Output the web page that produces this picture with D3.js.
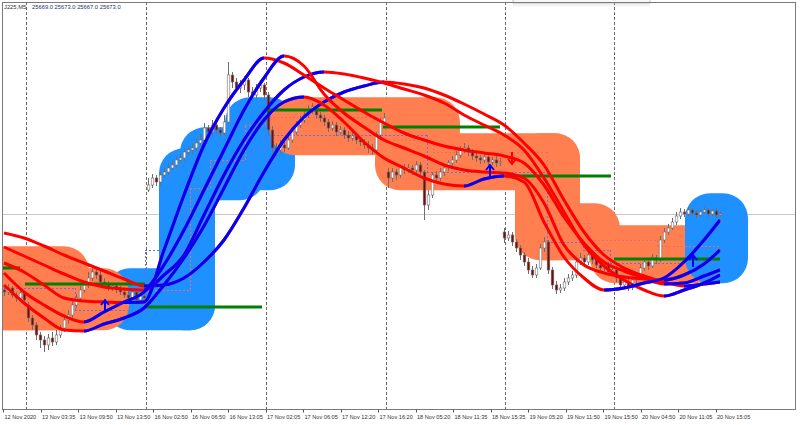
<!DOCTYPE html>
<html><head><meta charset="utf-8">
<script src="https://cdnjs.cloudflare.com/ajax/libs/d3/7.8.5/d3.min.js"></script>
<style>html,body{margin:0;padding:0;background:#fff;}svg{display:block;}</style>
</head><body>
<svg id="chart" width="800" height="425"></svg>
<script>
const symbolName = "J225,M5";
const ohlcText = "25669.0 25673.0 25667.0 25673.0";
const timeLabels = ["12 Nov 2020","13 Nov 03:35","13 Nov 09:50","13 Nov 13:50","16 Nov 02:50","16 Nov 06:50","16 Nov 13:05","17 Nov 02:05","17 Nov 06:05","17 Nov 12:20","17 Nov 16:20","18 Nov 05:20","18 Nov 11:35","18 Nov 15:35","19 Nov 05:20","19 Nov 11:50","19 Nov 15:50","20 Nov 04:50","20 Nov 11:05","20 Nov 15:05"];
const bidPrice = 25673;
const daySeparators = [5.5, 35.5, 65.5, 95.5, 125.25, 152.5];
// candles: [open, high, low, close]
const candles = [
[25370,25386,25346,25362],[25362,25394,25350,25378],[25378,25386,25338,25350],[25350,25362,25322,25338],[25338,25370,25330,25358],[25358,25366,25314,25330],
[25310,25322,25242,25258],[25258,25270,25210,25230],[25230,25242,25170,25190],[25190,25202,25138,25170],[25170,25186,25122,25150],[25150,25194,25130,25178],[25178,25202,25146,25162],
[25162,25210,25150,25190],[25190,25230,25178,25218],[25218,25266,25202,25250],[25250,25290,25234,25270],[25270,25330,25258,25310],
[25310,25354,25298,25338],[25338,25386,25326,25370],[25370,25406,25358,25390],[25390,25442,25378,25418],[25418,25462,25406,25442],[25442,25458,25414,25430],
[25430,25446,25390,25402],[25402,25418,25378,25390],[25390,25406,25366,25378],[25378,25398,25366,25386],[25386,25398,25358,25370],[25370,25386,25350,25362],
[25362,25378,25338,25350],[25350,25366,25322,25338],[25338,25374,25330,25362],[25362,25378,25318,25330],[25330,25358,25322,25346],[25346,25370,25318,25338],
[25770,25818,25762,25790],[25790,25834,25778,25818],[25818,25830,25786,25802],[25802,25842,25790,25830],[25830,25858,25818,25842],
[25842,25878,25830,25858],[25858,25890,25850,25870],[25870,25906,25858,25890],[25890,25918,25878,25898],[25898,25938,25886,25922],[25922,25946,25906,25930],[25930,25958,25914,25938],[25938,25978,25926,25958],[25958,25994,25946,25970],
[25970,26038,25962,26018],[26018,26030,25986,26002],[26002,26050,25990,26030],[26030,26042,25994,26010],[26010,26022,25982,25998],[25998,26070,25986,26042],
[26042,26282,26034,26230],
[26230,26242,26178,26202],[26202,26218,26162,26178],[26178,26210,26158,26190],[26190,26226,26170,26210],[26210,26218,26142,26162],[26162,26182,26130,26150],[26150,26194,26138,26178],[26178,26210,26162,26190],
[26190,26198,26130,26150],[26150,26162,25990,26010],[26010,26026,25918,25938],[25938,25958,25902,25930],[25930,25970,25914,25950],[25950,25966,25922,25938],
[25938,25986,25930,25970],[25970,26018,25958,26002],[26002,26046,25990,26030],[26030,26066,26018,26050],[26050,26086,26038,26070],[26070,26110,26058,26090],[26090,26118,26074,26102],
[26102,26110,26054,26070],[26070,26082,26042,26058],[26058,26070,26026,26042],[26042,26054,26002,26018],[26018,26046,26006,26030],[26030,26042,25986,26002],[26002,26026,25990,26010],[26010,26022,25974,25990],[25990,26006,25962,25978],[25978,26002,25966,25986],[25986,25998,25954,25970],[25970,25982,25946,25962],[25962,25974,25934,25950],[25950,25966,25918,25938],[25938,25954,25910,25930],
[25930,26002,25918,25990],[25990,26058,25978,26042],[26042,26078,26030,26058],
[25842,25858,25778,25818],[25818,25858,25802,25842],[25842,25854,25810,25830],[25830,25870,25818,25858],[25858,25874,25834,25850],
[25850,25874,25838,25858],[25858,25870,25830,25850],[25850,25886,25838,25870],[25870,25882,25826,25842],[25842,25850,25650,25710],[25710,25770,25690,25750],[25750,25842,25738,25830],
[25830,25846,25802,25818],[25818,25858,25806,25842],[25842,25870,25826,25858],[25858,25890,25846,25878],[25878,25906,25866,25890],[25890,25926,25878,25910],[25910,25946,25898,25930],
[25930,25958,25918,25938],[25938,25950,25906,25922],[25922,25934,25890,25906],[25906,25918,25882,25898],
[25898,25910,25874,25890],[25890,25918,25878,25902],[25902,25914,25866,25882],[25882,25902,25870,25890],[25890,25906,25862,25878],[25878,25898,25866,25882],
[25602,25618,25558,25578],[25578,25606,25566,25590],[25590,25602,25546,25562],[25562,25574,25522,25538],
[25538,25550,25490,25510],[25510,25522,25466,25482],[25482,25498,25434,25450],[25450,25466,25418,25430],[25430,25474,25418,25458],
[25458,25554,25450,25538],[25538,25582,25522,25562],
[25562,25570,25434,25450],[25450,25462,25374,25390],[25390,25406,25354,25370],[25370,25394,25358,25378],
[25378,25418,25366,25402],[25402,25434,25390,25418],[25418,25446,25406,25430],[25430,25498,25418,25482],
[25482,25518,25470,25498],[25498,25510,25466,25482],[25482,25526,25470,25510],[25510,25522,25474,25490],[25490,25502,25458,25470],
[25470,25486,25442,25458],[25458,25482,25446,25470],[25470,25482,25430,25442],[25442,25466,25430,25450],
[25450,25466,25402,25418],[25418,25430,25370,25390],[25390,25414,25374,25402],[25402,25418,25366,25382],[25382,25426,25370,25410],[25410,25442,25394,25430],
[25430,25474,25418,25458],[25458,25498,25446,25482],[25482,25494,25450,25466],[25466,25514,25458,25498],[25498,25510,25474,25490],
[25490,25586,25482,25570],[25570,25618,25558,25602],[25602,25634,25590,25618],[25618,25658,25610,25642],
[25642,25682,25630,25666],[25666,25698,25654,25682],[25682,25694,25662,25674],[25674,25702,25666,25690],
[25690,25698,25666,25678],[25678,25690,25658,25670],[25670,25694,25662,25682],[25682,25702,25674,25690],[25690,25698,25662,25674],[25674,25694,25666,25686],[25686,25698,25658,25670],[25670,25686,25662,25674]
];
// moving-average style lines, sampled at these bar indices
const maBars = [0,5,10,15,20,25,30,35,40,45,50,55,60,65,70,75,80,85,90,95,100,105,110,115,120,125,130,135,140,145,150,155,160,165,170,175,179];
const maFast = [25390,25318,25258,25210,25206,25234,25258,25298,25390,25498,25626,25778,25930,26050,26122,26142,26110,26042,25962,25898,25858,25818,25794,25786,25814,25826,25802,25642,25502,25418,25370,25378,25398,25418,25482,25570,25650];
const maSteep = [25438,25362,25310,25266,25242,25282,25322,25362,25470,25610,25770,25930,26090,26218,26306,26266,26154,26078,26022,25970,25938,25906,25870,25850,25842,25838,25818,25718,25550,25470,25438,25422,25414,25410,25430,25474,25530];
const maGentle = [25478,25442,25390,25338,25326,25322,25320,25322,25530,25750,25950,26098,26210,26298,26278,26230,26178,26130,26082,26038,25998,25970,25946,25930,25918,25906,25878,25790,25662,25558,25482,25446,25418,25394,25398,25426,25450];
const maMid = [25542,25506,25470,25434,25402,25382,25374,25370,25430,25510,25670,25830,25970,26082,26170,26222,26242,26234,26218,26198,26174,26150,26118,26070,26030,25990,25930,25818,25682,25550,25466,25410,25370,25346,25370,25398,25430];
const maSlow = [25598,25578,25546,25510,25478,25446,25414,25386,25390,25418,25482,25570,25698,25842,25970,26062,26122,26162,26186,26202,26194,26178,26150,26114,26074,26030,25958,25870,25730,25602,25510,25458,25426,25402,25386,25394,25402];
// trend bands: [fromBar, toBar, upperPrice, lowerPrice, trend]
const bands = [
[31.5,46.5,25357,25309,"up"],[45,46.5,25837,25309,"up"],[50.25,59,25921,25829,"up"],[61.5,66.5,26041,25869,"up"],
[-2,15,25445,25309,"down"],[-2,25,25357,25309,"down"],[72.75,107.75,26041,26009,"down"],[99,137.75,25897,25869,"down"],
[134,137.75,25897,25589,"down"],[135.25,147.75,25617,25589,"down"],[152.75,172.75,25529,25497,"down"],
[176.5,179.75,25657,25497,"up"]
];
// daily levels: [fromBar, toBar, price]
const greenLevels = [[-1,4,25458],[5.25,35.25,25394],[35.5,64.5,25302],[65.25,94.5,26090],[94.75,124,26022],[125.5,151.75,25826],[152.5,179,25494]];
const upperSteps = [[-1,21.5,25466],[34.75,46.5,25370],[46.5,51.5,25778],[51.5,60.25,25890],[60.25,65.25,26030],[65.25,95.25,26062],[95.25,107.25,25970],[107.25,135.75,25922],[135.75,146.5,25638],[146.5,163.25,25570],[163.25,179,25546]];
const lowerSteps = [[-1,17.75,25378],[17.75,35.25,25290],[35.25,45.25,25530],[45.25,52.75,25710],[52.75,61.5,25830],[61.5,65.25,25930],[65.25,105.75,25990],[105.75,135.75,25842],[135.75,144.75,25562],[144.75,151.5,25530],[151.5,179,25478]];
const arrowsUp = [[25.25,25306],[121.5,25846],[172.25,25486]];
const arrowsDown = [[127,25898]];

const svg = d3.select("#chart");
const P = {l:2, t:2, r:796, b:409.5};
const x = d3.scaleLinear().domain([0,179]).range([4,720]);
const y = d3.scaleLinear().domain([24902,26522]).range([407,2]);
const COL = {up:"#1e90ff", down:"#ff7f50"};

svg.append("rect").attr("width",800).attr("height",425).attr("fill","#fff");
const defs = svg.append("defs");
defs.append("clipPath").attr("id","plotClip").append("rect")
  .attr("x",P.l).attr("y",P.t).attr("width",P.r-P.l).attr("height",P.b-P.t);
const g = svg.append("g").attr("clip-path","url(#plotClip)");

// day separators
g.selectAll("line.sep").data(daySeparators).join("line")
  .attr("x1",d=>Math.round(x(d))+0.5).attr("x2",d=>Math.round(x(d))+0.5)
  .attr("y1",P.t).attr("y2",P.b).attr("stroke","#6a6a6a").attr("stroke-width",1).attr("stroke-dasharray","3,2");
// bid line
g.append("line").attr("x1",P.l).attr("x2",P.r).attr("y1",Math.round(y(bidPrice))+0.5).attr("y2",Math.round(y(bidPrice))+0.5)
  .attr("stroke","#c8c8c8").attr("stroke-width",1);

// bands
g.append("g").selectAll("path").data(bands).join("path")
  .attr("d",d=>{const x0=x(d[0]),x1=x(d[1]),y0=y(d[2]),y1=y(d[3]);return `M${x0},${y0}H${x1}V${y1}H${x0}Z`;})
  .attr("fill",d=>COL[d[4]]).attr("stroke",d=>COL[d[4]]).attr("stroke-width",50).attr("stroke-linejoin","round");

// dotted step levels
function steps(data,color){
  const gg = g.append("g").attr("fill","none").attr("stroke",color).attr("stroke-width",1).attr("stroke-dasharray","2,2");
  data.forEach((d,i)=>{
    gg.append("line").attr("x1",x(d[0])).attr("x2",x(d[1])).attr("y1",Math.round(y(d[2]))+0.5).attr("y2",Math.round(y(d[2]))+0.5);
    const n = data[i+1];
    if(n && Math.abs(n[0]-d[1])<0.01){
      gg.append("line").attr("x1",Math.round(x(d[1]))+0.5).attr("x2",Math.round(x(d[1]))+0.5).attr("y1",y(d[2])).attr("y2",y(n[2]));
    }
  });
}
steps(upperSteps,"#f06a6a");
steps(lowerSteps,"#6a6af0");

// candles
const cg = g.append("g");
candles.forEach((c,i)=>{
  const cx = Math.round(x(i))+0.5;
  const [o,h,l,cl] = c;
  cg.append("line").attr("x1",cx).attr("x2",cx).attr("y1",y(h)).attr("y2",y(l)).attr("stroke","#6e6e6e").attr("stroke-width",1);
  const top = y(Math.max(o,cl)), bot = y(Math.min(o,cl));
  cg.append("rect").attr("x",cx-1.3).attr("y",top).attr("width",2.6).attr("height",Math.max(1,bot-top))
    .attr("fill", cl>=o ? "#ffffff" : "#7a0a0a").attr("stroke","#6e6e6e").attr("stroke-width",0.6);
});

// green levels
g.append("g").selectAll("line").data(greenLevels).join("line")
  .attr("x1",d=>x(d[0])).attr("x2",d=>x(d[1])).attr("y1",d=>y(d[2])).attr("y2",d=>y(d[2]))
  .attr("stroke","#008000").attr("stroke-width",3);

// MA lines coloured by direction
const line = d3.line().x(d=>x(d[0])).y(d=>y(d[1])).curve(d3.curveMonotoneX);
[maSlow,maMid,maGentle,maSteep,maFast].forEach((vals,k)=>{
  const pts = maBars.map((b,i)=>[b,vals[i]]);
  const dStr = line(pts);
  g.append("path").attr("d",dStr).attr("fill","none").attr("stroke","#ff0000").attr("stroke-width",3);
  const runs=[]; let cur=null;
  for(let i=1;i<vals.length;i++){
    if(vals[i]>vals[i-1]){ if(cur && cur[1]===maBars[i-1]) cur[1]=maBars[i]; else {cur=[maBars[i-1],maBars[i]]; runs.push(cur);} }
  }
  const cp = defs.append("clipPath").attr("id","rise"+k);
  runs.forEach(r=>cp.append("rect").attr("x",x(r[0])).attr("y",0).attr("width",x(r[1])-x(r[0])).attr("height",425));
  g.append("path").attr("d",dStr).attr("fill","none").attr("stroke","#0000ff").attr("stroke-width",3).attr("clip-path",`url(#rise${k})`);
});

// arrows
arrowsUp.forEach(a=>{const cx=x(a[0]),cy=y(a[1]);
  g.append("path").attr("d",`M${cx},${cy+6}V${cy-5}M${cx-4},${cy-1}L${cx},${cy-6}L${cx+4},${cy-1}`)
   .attr("fill","none").attr("stroke","#0000ff").attr("stroke-width",2);});
arrowsDown.forEach(a=>{const cx=x(a[0]),cy=y(a[1]);
  g.append("path").attr("d",`M${cx},${cy-6}V${cy+5}M${cx-4},${cy+1}L${cx},${cy+6}L${cx+4},${cy+1}`)
   .attr("fill","none").attr("stroke","#ff0000").attr("stroke-width",2);});

// top toolbar remnant
svg.append("rect").attr("x",513).attr("y",-3).attr("width",137).attr("height",6).attr("fill","#f7f7f7").attr("stroke","#c4c4c4");
svg.append("rect").attr("x",513).attr("y",3.5).attr("width",137).attr("height",3).attr("fill","#000").attr("opacity",0.05);

// frame
svg.append("rect").attr("x",P.l+0.5).attr("y",P.t+0.5).attr("width",P.r-P.l-1).attr("height",P.b-P.t-0.5)
  .attr("fill","none").attr("stroke","#7a7a7a").attr("stroke-width",1);

// header
svg.append("text").attr("x",4).attr("y",8.5).attr("font-family","Liberation Sans, Arial, sans-serif").attr("font-size",5.8).attr("fill","#333").text(symbolName);
svg.append("text").attr("x",32).attr("y",8.5).attr("font-family","Liberation Sans, Arial, sans-serif").attr("font-size",5.8).attr("fill","#1c3370").text(ohlcText);

// time axis
const tx = d3.scalePoint().domain(timeLabels).range([3,715.5]);
const ax = svg.append("g");
ax.selectAll("line").data(timeLabels).join("line")
  .attr("x1",d=>Math.round(tx(d))+0.5).attr("x2",d=>Math.round(tx(d))+0.5).attr("y1",P.b).attr("y2",P.b+3)
  .attr("stroke","#555").attr("stroke-width",1);
ax.selectAll("text").data(timeLabels).join("text")
  .attr("x",d=>tx(d)+1.5).attr("y",418.5).attr("font-family","Liberation Sans, Arial, sans-serif").attr("font-size",5.6).attr("fill","#333").text(d=>d);
</script>
</body></html>
